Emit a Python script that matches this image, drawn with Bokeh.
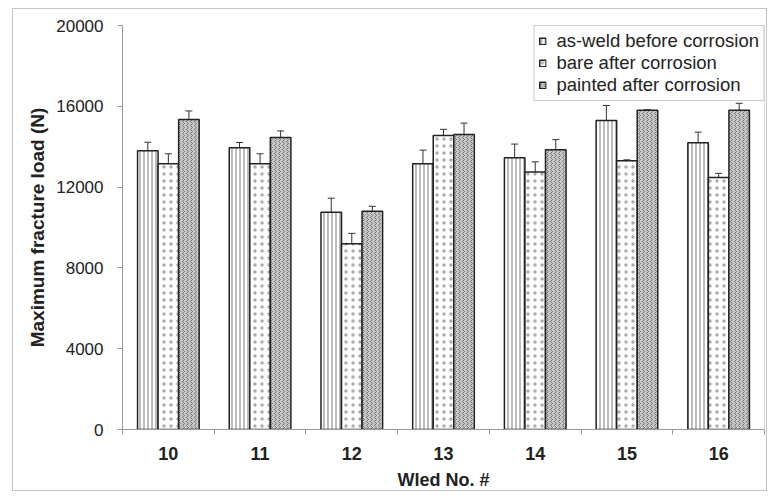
from bokeh.plotting import figure
from bokeh.models import (ColumnDataSource, Whisker, TeeHead, FixedTicker, Legend,
                          LegendItem, Range1d, Span)
from bokeh.embed import file_html
from bokeh.resources import INLINE

# ---- data ----
cats = ["10", "11", "12", "13", "14", "15", "16"]
as_weld = [13800, 13950, 10750, 13150, 13450, 15300, 14200]
as_weld_err = [420, 260, 700, 680, 680, 740, 520]
bare = [13150, 13150, 9200, 14550, 12750, 13300, 12480]
bare_err = [500, 500, 510, 310, 500, 50, 200]
painted = [15350, 14450, 10800, 14600, 13850, 15800, 15800]
painted_err = [420, 330, 250, 570, 500, 30, 350]
series_names = ["as-weld before corrosion", "bare after corrosion", "painted after corrosion"]
y_ticks = [0, 4000, 8000, 12000, 16000, 20000]

bw = 0.224
centers = [i + 0.5 for i in range(len(cats))]

src = ColumnDataSource(dict(
    x1=[c - bw for c in centers], x2=centers, x3=[c + bw for c in centers],
    a=as_weld, au=[v + e for v, e in zip(as_weld, as_weld_err)], al=[v - e for v, e in zip(as_weld, as_weld_err)],
    b=bare, bu=[v + e for v, e in zip(bare, bare_err)], bl=[v - e for v, e in zip(bare, bare_err)],
    c=painted, cu=[v + e for v, e in zip(painted, painted_err)], cl=[v - e for v, e in zip(painted, painted_err)],
))

p = figure(width=755, height=483, x_range=Range1d(0, len(cats)), y_range=Range1d(0, 20000),
           output_backend="svg", toolbar_location=None,
           min_border_left=109, min_border_right=4, min_border_top=16, min_border_bottom=60)
p.styles = {"border": "1px solid #c4c4c4", "margin-left": "12px", "margin-top": "8px"}
p.xgrid.visible = False
p.ygrid.visible = False
p.outline_line_color = None
p.background_fill_color = "white"

FONT = "Liberation Sans"

r1 = p.vbar(x="x1", top="a", width=bw, source=src, fill_color="white", line_color="#222", line_width=1.5,
            hatch_pattern="|", hatch_color="#777", hatch_scale=4, hatch_weight=1)
r2 = p.vbar(x="x2", top="b", width=bw, source=src, fill_color="white", line_color="#222", line_width=1.5,
            hatch_pattern=".", hatch_color="#888", hatch_scale=7, hatch_alpha=0.7)
r3 = p.vbar(x="x3", top="c", width=bw, source=src, fill_color="#c4c4c4", line_color="#222", line_width=1.5,
            hatch_pattern=">", hatch_color="#7a7a7a", hatch_scale=4, hatch_weight=1)

for xk, up, lo in (("x1", "au", "al"), ("x2", "bu", "bl"), ("x3", "cu", "cl")):
    w = Whisker(source=src, base=xk, upper=up, lower=lo, line_color="#333", line_width=1,
                upper_head=TeeHead(size=7, line_color="#333", line_width=1),
                lower_head=TeeHead(size=7, line_color="#333", line_width=1))
    p.add_layout(w)

# right border of the plot area
p.add_layout(Span(location=len(cats), dimension="height", line_color="#aaa", line_width=1))

legend = Legend(items=[LegendItem(label=series_names[0], renderers=[r1]),
                       LegendItem(label=series_names[1], renderers=[r2]),
                       LegendItem(label=series_names[2], renderers=[r3])],
                location="top_right", margin=0, border_line_color="#999", border_line_width=1,
                label_text_font=FONT, label_text_font_size="18.5px", label_text_color="#222",
                glyph_width=8, glyph_height=8, label_height=18, spacing=0, padding=4,
                label_standoff=10, background_fill_alpha=1)
p.add_layout(legend)

# x axis
xax = p.xaxis[0]
xax.ticker = FixedTicker(ticks=centers, minor_ticks=list(range(len(cats) + 1)))
xax.major_label_overrides = {c: lab for c, lab in zip(centers, cats)}
xax.major_tick_line_color = None
xax.major_tick_out = 0
xax.major_tick_in = 0
xax.minor_tick_out = 5
xax.minor_tick_in = 0
xax.minor_tick_line_color = "#999"
xax.axis_line_color = "#999"
xax.major_label_text_font = FONT
xax.major_label_text_font_style = "bold"
xax.major_label_text_font_size = "18px"
xax.major_label_text_color = "#222"
xax.major_label_standoff = 12
xax.axis_label = "Wled No. #"
xax.axis_label_text_font = FONT
xax.axis_label_text_font_style = "bold"
xax.axis_label_text_font_size = "18px"
xax.axis_label_text_color = "#222"
xax.axis_label_standoff = 7

# y axis
yax = p.yaxis[0]
yax.ticker = FixedTicker(ticks=y_ticks)
yax.minor_tick_line_color = None
yax.major_tick_out = 5
yax.major_tick_in = 0
yax.major_tick_line_color = "#999"
yax.axis_line_color = "#999"
yax.major_label_text_font = FONT
yax.major_label_text_font_size = "17px"
yax.major_label_text_color = "#222"
yax.major_label_standoff = 14
yax.axis_label = "Maximum fracture load (N)"
yax.axis_label_text_font = FONT
yax.axis_label_text_font_style = "bold"
yax.axis_label_text_font_size = "19px"
yax.axis_label_text_color = "#222"
yax.axis_label_standoff = 5

open("out.html", "w").write(file_html(p, INLINE))
